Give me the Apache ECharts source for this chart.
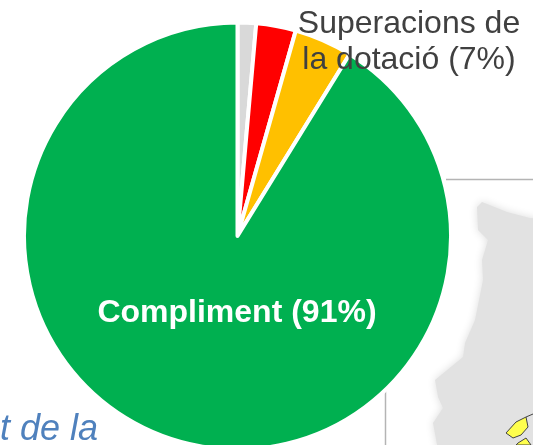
<!DOCTYPE html>
<html>
<head>
<meta charset="utf-8">
<style>
  html, body { margin: 0; padding: 0; background: #fff; }
  #chart { width: 533px; height: 445px; }
</style>
<script src="https://cdn.jsdelivr.net/npm/echarts@6/dist/echarts.min.js"></script>
</head>
<body>
<div id="chart"></div>
<script>
// clockwise from 12 o'clock
const categories = ["Altres", "Incompliment", "Superacions de\nla dotació (7%)", "Compliment (91%)"];
const values = [1.4, 3, 4.4, 91.2];
const colors = ["#d9d9d9", "#ff0000", "#ffc000", "#00b050"];

const myChart = echarts.init(document.getElementById("chart"), null, { renderer: "canvas" });

const font = "'Liberation Sans', Arial, sans-serif";

// scrap of the map that sits behind the pie in the source slide
const mapOutline = [
  [477, 207], [482, 202], [507, 212], [530, 218], [540, 219], [540, 450], [438, 450],
  [433, 423], [443, 408], [438, 397], [435, 380], [463, 357], [465, 343], [475, 320],
  [483, 280], [482, 260], [488, 240], [478, 230],
];
const yellowPatch = [
  [506, 433], [516, 422], [526, 417], [528, 427], [521, 435], [513, 438],
];
const yellowPatch2 = [[516, 445], [518, 443], [526, 438], [531, 445]];
const mapBorder = [[526, 417], [533, 414]];

const option = {
  animation: false,
  backgroundColor: "#ffffff",
  graphic: {
    elements: [
      {
        type: "polyline", z: 0,
        shape: { points: [[533, 179.5], [446, 179.5]] },
        style: { stroke: "#b4b4b4", lineWidth: 1.5, fill: null },
      },
      {
        type: "polyline", z: 0,
        shape: { points: [[385.5, 391], [385.5, 445]] },
        style: { stroke: "#b4b4b4", lineWidth: 1.5, fill: null },
      },
      {
        type: "polygon", z: 0,
        shape: { points: mapOutline },
        style: { fill: "#e2e2e2", shadowBlur: 8, shadowColor: "#dddddd" },
      },
      {
        type: "polygon", z: 1,
        shape: { points: yellowPatch },
        style: { fill: "#ffff4d", stroke: "#444444", lineWidth: 1 },
      },
      {
        type: "polygon", z: 1,
        shape: { points: yellowPatch2 },
        style: { fill: "#ffff4d", stroke: "#444444", lineWidth: 1 },
      },
      {
        type: "polyline", z: 1,
        shape: { points: mapBorder },
        style: { stroke: "#444444", lineWidth: 1, fill: null },
      },
      {
        type: "text", z: 1, left: 0, top: 412,
        style: {
          text: "t de la",
          fill: "#4f81bd",
          font: "italic 36px " + font,
        },
      },
    ],
  },
  series: [
    {
      type: "pie",
      center: [237.5, 236],
      radius: [0, 213.5],
      startAngle: 90,
      clockwise: true,
      silent: true,
      z: 5,
      itemStyle: { borderColor: "#ffffff", borderWidth: 4 },
      data: values.map((v, i) => ({
        name: categories[i],
        value: v,
        itemStyle: { color: colors[i] },
        label: i === 2
          ? { show: true, color: "#404040", fontSize: 32, lineHeight: 36, fontWeight: "normal" }
          : i === 3
            ? { show: true, color: "#ffffff", fontSize: 32, fontWeight: "bold" }
            : { show: false },
      })),
      label: { position: "inside", formatter: "{b}", fontFamily: font, align: "center" },
      labelLine: { show: false },
      labelLayout: function (params) {
        if (params.dataIndex === 2) return { x: 409, y: 42, align: "center", verticalAlign: "middle" };
        if (params.dataIndex === 3) return { x: 237, y: 313, align: "center", verticalAlign: "middle" };
        return {};
      },
    },
  ],
};

myChart.setOption(option);

// Resize chart when window is resized
window.addEventListener("resize", () => myChart.resize());
</script>
</body>
</html>
